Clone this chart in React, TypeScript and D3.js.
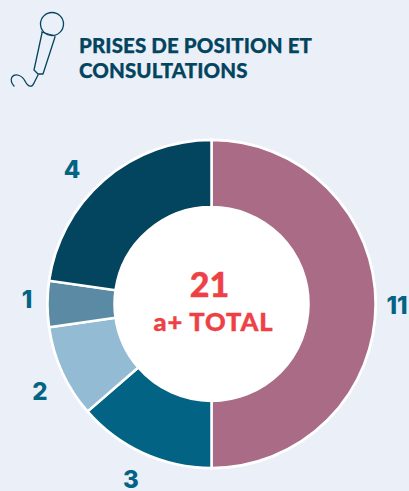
import React from "react";
import * as d3 from "d3";

const sliceValues = [11, 3, 2, 1, 5];
const sliceLabels = ["11", "3", "2", "1", "4"];
const sliceColors = ["#a96b86", "#026384", "#93bbd3", "#5b8aa5", "#03445f"];
const titleLines = ["PRISES DE POSITION ET", "CONSULTATIONS"];
const totalValue = "21";
const totalLabel = "a+ TOTAL";

const W = 409, H = 491;
const cx = 211.5, cy = 304, R = 164, r = 97;

export default function App() {
  const pie = d3.pie<number>().sort(null).value((d) => d);
  const arcs = pie(sliceValues);
  const arc = d3.arc<d3.PieArcDatum<number>>().innerRadius(r).outerRadius(R);
  const labelPos: [number, number][] = [[397, 314], [131, 488], [40, 400], [27, 308], [72, 178]];
  return (
    <svg width={W} height={H} viewBox={`0 0 ${W} ${H}`} style={{ position: "absolute", left: 0, top: 0, background: "#ebeff7" }}>
      <g fill="none" stroke="#03445f" strokeWidth={1.3} strokeLinecap="round" strokeLinejoin="round">
        <circle cx={52} cy={24} r={11.5} />
        <path d="M41.5 32 L55 36 M42 33 L34 70 L38 74 L43 74 L55 37 M38 75 L34 83 C32 88 28 87 25 81 C22 75 15 73 12 77 C10 80 12 84 14 86" />
      </g>
      <g fontFamily="Lato" fontWeight={900} fontSize={20.5} fill="#03445f" stroke="#03445f" strokeWidth={0.25} letterSpacing={0.1}>
        <text x={79} y={53}>{titleLines[0]}</text>
        <text x={79} y={78}>{titleLines[1]}</text>
      </g>
      <circle cx={cx} cy={cy} r={R + 1.5} fill="#ffffff" />
      <g transform={`translate(${cx},${cy})`}>
        {arcs.map((a, i) => (
          <path key={i} d={arc(a) ?? ""} fill={sliceColors[i]} stroke="#ffffff" strokeWidth={2.5} />
        ))}
      </g>
      <circle cx={cx} cy={cy} r={r} fill="#ffffff" />
      <g fontFamily="Inter" fontWeight={800} fontSize={24} fill="#026384" textAnchor="middle">
        {sliceLabels.map((l, i) => (
          <text key={i} x={labelPos[i][0]} y={labelPos[i][1]}>{l}</text>
        ))}
      </g>
      <g fill="#ee4146" stroke="#ee4146" strokeWidth={0.4} textAnchor="middle" fontFamily="Lato" fontWeight={900}>
        <text x={209.5} y={297} fontSize={34}>{totalValue}</text>
        <text x={213.5} y={331} fontSize={25.5} letterSpacing={0.9}>{totalLabel}</text>
      </g>
    </svg>
  );
}
